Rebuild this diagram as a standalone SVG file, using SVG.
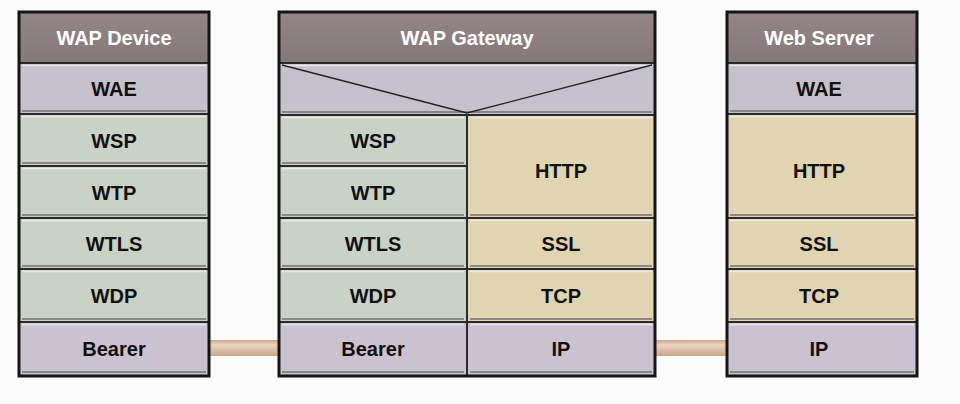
<svg xmlns="http://www.w3.org/2000/svg" width="960" height="404" viewBox="0 0 960 404">
<defs>
<linearGradient id="tube" x1="0" y1="0" x2="0" y2="1">
<stop offset="0" stop-color="#c9a58a"/>
<stop offset="0.3" stop-color="#ecd3c2"/>
<stop offset="1" stop-color="#c8a68c"/>
</linearGradient>
<linearGradient id="hdr" x1="0" y1="0" x2="0" y2="1">
<stop offset="0" stop-color="#948686"/>
<stop offset="1" stop-color="#857878"/>
</linearGradient>
</defs>
<style>
.bg{fill:#fbfbfb}
.frame{fill:none;stroke:#151515;stroke-width:3}
.hd{fill:url(#hdr)}
.lav{fill:#c6c2cc}
.grn{fill:#c9d3c5}
.tan{fill:#e0d4b1}
.pur{fill:#cac2d0}
.sep{stroke:#2a2a2a;stroke-width:2}
.hi{stroke:#f2f0f0;stroke-width:1.5;opacity:0.8}
.sh{stroke:#6e6a6a;stroke-width:2;opacity:0.7}
.ht{font-family:"Liberation Sans",Arial,sans-serif;font-weight:bold;font-size:20px;fill:#ffffff;text-anchor:middle}
.ct{font-family:"Liberation Sans",Arial,sans-serif;font-weight:bold;font-size:20px;fill:#111111;text-anchor:middle}
.vl{stroke:#222;stroke-width:1.3;fill:none}
</style>
<rect class="bg" x="0" y="0" width="960" height="404"/>

<g id="connectors">
<rect x="208" y="340" width="73" height="16" fill="url(#tube)"/>
<rect x="654" y="340" width="75" height="16" fill="url(#tube)"/>
</g>

<g id="wap-device">
<rect class="hd" x="19" y="12" width="190" height="51"/>
<rect class="lav" x="19" y="63" width="190" height="51"/>
<rect class="grn" x="19" y="114" width="190" height="52"/>
<rect class="grn" x="19" y="166" width="190" height="52"/>
<rect class="grn" x="19" y="218" width="190" height="51"/>
<rect class="grn" x="19" y="269" width="190" height="53"/>
<rect class="pur" x="19" y="322" width="190" height="54"/>
<g class="hi">
<line x1="22" y1="65.5" x2="206" y2="65.5"/><line x1="22" y1="116.5" x2="206" y2="116.5"/><line x1="22" y1="168.5" x2="206" y2="168.5"/><line x1="22" y1="220.5" x2="206" y2="220.5"/><line x1="22" y1="271.5" x2="206" y2="271.5"/><line x1="22" y1="324.5" x2="206" y2="324.5"/>
</g>
<g class="sh">
<line x1="22" y1="111" x2="206" y2="111"/><line x1="22" y1="163" x2="206" y2="163"/><line x1="22" y1="215" x2="206" y2="215"/><line x1="22" y1="266" x2="206" y2="266"/><line x1="22" y1="319" x2="206" y2="319"/><line x1="22" y1="372" x2="206" y2="372"/>
</g>
<g class="sep">
<line x1="19" y1="63" x2="209" y2="63"/><line x1="19" y1="114" x2="209" y2="114"/><line x1="19" y1="166" x2="209" y2="166"/><line x1="19" y1="218" x2="209" y2="218"/><line x1="19" y1="269" x2="209" y2="269"/><line x1="19" y1="322" x2="209" y2="322"/>
</g>
<rect class="frame" x="19" y="12" width="190" height="364"/>
<text class="ht" x="114" y="45">WAP Device</text>
<text class="ct" x="114" y="96">WAE</text>
<text class="ct" x="114" y="148">WSP</text>
<text class="ct" x="114" y="200">WTP</text>
<text class="ct" x="114" y="251">WTLS</text>
<text class="ct" x="114" y="303">WDP</text>
<text class="ct" x="114" y="356">Bearer</text>
</g>

<g id="wap-gateway">
<rect class="hd" x="279" y="12" width="376" height="51"/>
<rect class="lav" x="279" y="63" width="376" height="52"/>
<rect class="grn" x="279" y="115" width="188" height="51"/>
<rect class="grn" x="279" y="166" width="188" height="52"/>
<rect class="grn" x="279" y="218" width="188" height="51"/>
<rect class="grn" x="279" y="269" width="188" height="53"/>
<rect class="pur" x="279" y="322" width="188" height="54"/>
<rect class="tan" x="467" y="115" width="188" height="103"/>
<rect class="tan" x="467" y="218" width="188" height="51"/>
<rect class="tan" x="467" y="269" width="188" height="53"/>
<rect class="pur" x="467" y="322" width="188" height="54"/>
<g class="hi">
<line x1="282" y1="65.5" x2="652" y2="65.5"/>
<line x1="282" y1="117.5" x2="464" y2="117.5"/><line x1="282" y1="168.5" x2="464" y2="168.5"/><line x1="282" y1="220.5" x2="464" y2="220.5"/><line x1="282" y1="271.5" x2="464" y2="271.5"/><line x1="282" y1="324.5" x2="464" y2="324.5"/>
<line x1="470" y1="117.5" x2="652" y2="117.5"/><line x1="470" y1="220.5" x2="652" y2="220.5"/><line x1="470" y1="271.5" x2="652" y2="271.5"/><line x1="470" y1="324.5" x2="652" y2="324.5"/>
</g>
<g class="sh">
<line x1="282" y1="112" x2="652" y2="112"/>
<line x1="282" y1="163" x2="464" y2="163"/><line x1="282" y1="215" x2="464" y2="215"/><line x1="282" y1="266" x2="464" y2="266"/><line x1="282" y1="319" x2="464" y2="319"/><line x1="282" y1="372" x2="464" y2="372"/>
<line x1="470" y1="215" x2="652" y2="215"/><line x1="470" y1="266" x2="652" y2="266"/><line x1="470" y1="319" x2="652" y2="319"/><line x1="470" y1="372" x2="652" y2="372"/>
</g>
<g class="sep">
<line x1="279" y1="63" x2="655" y2="63"/><line x1="279" y1="115" x2="655" y2="115"/>
<line x1="279" y1="166" x2="467" y2="166"/><line x1="279" y1="218" x2="655" y2="218"/><line x1="279" y1="269" x2="655" y2="269"/><line x1="279" y1="322" x2="655" y2="322"/>
<line x1="467" y1="115" x2="467" y2="376"/>
</g>
<polyline class="vl" points="282,65 467,113 652,65"/>
<rect class="frame" x="279" y="12" width="376" height="364"/>
<text class="ht" x="467" y="45">WAP Gateway</text>
<text class="ct" x="373" y="148">WSP</text>
<text class="ct" x="373" y="200">WTP</text>
<text class="ct" x="373" y="251">WTLS</text>
<text class="ct" x="373" y="303">WDP</text>
<text class="ct" x="373" y="356">Bearer</text>
<text class="ct" x="561" y="178">HTTP</text>
<text class="ct" x="561" y="251">SSL</text>
<text class="ct" x="561" y="303">TCP</text>
<text class="ct" x="561" y="356">IP</text>
</g>

<g id="web-server">
<rect class="hd" x="727" y="12" width="190" height="51"/>
<rect class="lav" x="727" y="63" width="190" height="51"/>
<rect class="tan" x="727" y="114" width="190" height="104"/>
<rect class="tan" x="727" y="218" width="190" height="51"/>
<rect class="tan" x="727" y="269" width="190" height="53"/>
<rect class="pur" x="727" y="322" width="190" height="54"/>
<g class="hi">
<line x1="730" y1="65.5" x2="914" y2="65.5"/><line x1="730" y1="116.5" x2="914" y2="116.5"/><line x1="730" y1="220.5" x2="914" y2="220.5"/><line x1="730" y1="271.5" x2="914" y2="271.5"/><line x1="730" y1="324.5" x2="914" y2="324.5"/>
</g>
<g class="sh">
<line x1="730" y1="111" x2="914" y2="111"/><line x1="730" y1="215" x2="914" y2="215"/><line x1="730" y1="266" x2="914" y2="266"/><line x1="730" y1="319" x2="914" y2="319"/><line x1="730" y1="372" x2="914" y2="372"/>
</g>
<g class="sep">
<line x1="727" y1="63" x2="917" y2="63"/><line x1="727" y1="114" x2="917" y2="114"/><line x1="727" y1="218" x2="917" y2="218"/><line x1="727" y1="269" x2="917" y2="269"/><line x1="727" y1="322" x2="917" y2="322"/>
</g>
<rect class="frame" x="727" y="12" width="190" height="364"/>
<text class="ht" x="819" y="45">Web Server</text>
<text class="ct" x="819" y="96">WAE</text>
<text class="ct" x="819" y="178">HTTP</text>
<text class="ct" x="819" y="251">SSL</text>
<text class="ct" x="819" y="303">TCP</text>
<text class="ct" x="819" y="356">IP</text>
</g>
</svg>
